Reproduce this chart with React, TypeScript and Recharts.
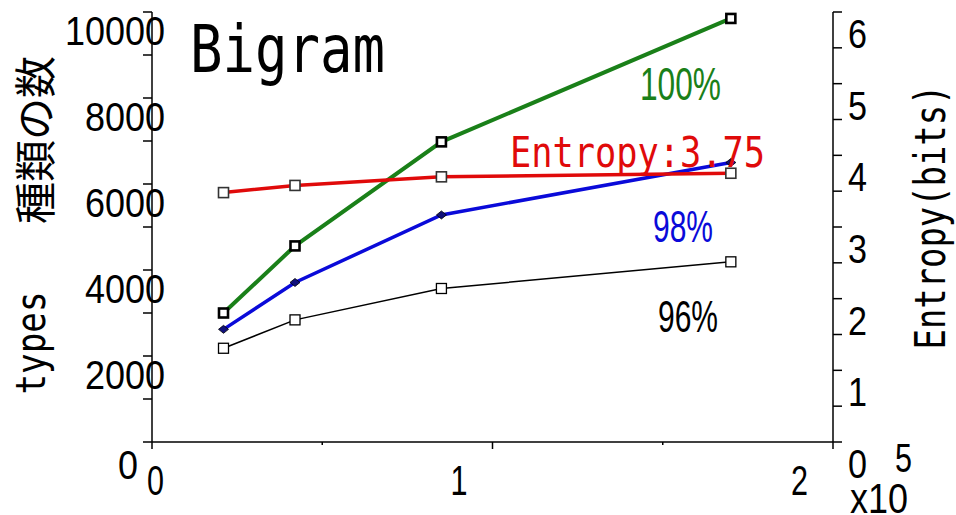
import { LineChart, Line, XAxis, YAxis } from 'recharts';

// sample sizes in units of 10^5
const sampleSizes = [0.21, 0.42, 0.85, 1.7];
// number of bigram types covering 100% / 98% / 96% of tokens
const types100 = [3000, 4560, 6980, 9850];
const types98 = [2620, 3710, 5280, 6500];
const types96 = [2180, 2840, 3570, 4190];
// entropy in bits
const entropyBits = [3.48, 3.58, 3.7, 3.75];

const typeTicks = [0, 1000, 2000, 3000, 4000, 5000, 6000, 7000, 8000, 9000, 10000];
const entropyTicks = [0, 0.5, 1, 1.5, 2, 2.5, 3, 3.5, 4, 4.5, 5, 5.5, 6];
const sizeTicks = [0, 0.5, 1, 1.5, 2];

const data = sampleSizes.map((x, i) => ({
  x,
  t100: types100[i],
  t98: types98[i],
  t96: types96[i],
  entropy: entropyBits[i],
}));

const GREEN = '#1a8019';
const RED = '#e00a0a';
const BLUE = '#0a0ad9';
const NUM_FONT = "'Liberation Sans', Arial, sans-serif";
const MONO_FONT = "'DejaVu Sans Mono', 'Liberation Mono', monospace";

const LeftTick = ({ x, y, payload }: any) => {
  const v = payload.value;
  const label = String(v);
  // the zero label sits left of the corner, clear of the x-axis zero
  const tx = v === 0 ? x - 14 : x + 13;
  const ty = v === 0 ? y + 37 : y + 33;
  return (
    <g>
      <line x1={x} x2={x - 9} y1={y} y2={y} stroke="#000" strokeWidth={1.5} />
      {v % 2000 === 0 && (
        <text
          x={tx}
          y={ty}
          textAnchor="end"
          fontFamily={NUM_FONT}
          fontSize={40}
          fill="#000"
          textLength={label.length * 20}
          lengthAdjust="spacingAndGlyphs"
        >
          {label}
        </text>
      )}
    </g>
  );
};

const RightTick = ({ x, y, payload }: any) => {
  const v = payload.value;
  return (
    <g>
      <line x1={x} x2={x + 9} y1={y} y2={y} stroke="#000" strokeWidth={1.5} />
      {Number.isInteger(v) && (
        <text
          x={x + 15}
          y={y + 36}
          fontFamily={NUM_FONT}
          fontSize={41}
          fill="#000"
          textLength={19}
          lengthAdjust="spacingAndGlyphs"
        >
          {v}
        </text>
      )}
    </g>
  );
};

const BottomTick = ({ x, y, payload }: any) => {
  const v = payload.value;
  const major = Number.isInteger(v);
  return (
    <g>
      <line x1={x} x2={x} y1={y} y2={y + (major ? 7 : 3)} stroke="#000" strokeWidth={1.5} />
      {major && (
        <text
          x={x + (v === 0 ? -5 : -42)}
          y={y + 53}
          fontFamily={NUM_FONT}
          fontSize={42}
          fill="#000"
          textLength={17}
          lengthAdjust="spacingAndGlyphs"
        >
          {v}
        </text>
      )}
    </g>
  );
};

const SquareDot = ({ cx, cy, stroke, width, size }: any) => (
  <rect
    x={cx - size / 2}
    y={cy - size / 2}
    width={size}
    height={size}
    fill="#fff"
    stroke={stroke}
    strokeWidth={width}
  />
);

const DiamondDot = ({ cx, cy }: any) => (
  <polygon
    points={`${cx - 5},${cy} ${cx},${cy - 4} ${cx + 5},${cy} ${cx},${cy + 4}`}
    fill="#10107a"
    stroke="#000"
    strokeWidth={0.8}
  />
);

export default function App() {
  const last = entropyBits[entropyBits.length - 1];
  return (
    <div style={{ position: 'absolute', left: 0, top: 0, width: 956, height: 515, background: '#fff' }}>
      <LineChart width={956} height={515} data={data} margin={{ top: 12, right: 43, bottom: 33, left: 52 }}>
        <XAxis
          dataKey="x"
          type="number"
          domain={[0, 2]}
          ticks={sizeTicks}
          height={40}
          tickSize={0}
          tickMargin={0}
          tickLine={false}
          tick={<BottomTick />}
          axisLine={{ stroke: '#000', strokeWidth: 1.5 }}
          interval={0}
        />
        <YAxis
          yAxisId="types"
          orientation="left"
          domain={[0, 10000]}
          ticks={typeTicks}
          width={100}
          tickSize={0}
          tickMargin={0}
          tickLine={false}
          tick={<LeftTick />}
          axisLine={{ stroke: '#000', strokeWidth: 1.5 }}
          interval={0}
        />
        <YAxis
          yAxisId="bits"
          orientation="right"
          domain={[0, 6]}
          ticks={entropyTicks}
          width={80}
          tickSize={0}
          tickMargin={0}
          tickLine={false}
          tick={<RightTick />}
          axisLine={{ stroke: '#000', strokeWidth: 1.5 }}
          interval={0}
        />
        <Line
          yAxisId="types"
          dataKey="t96"
          stroke="#000"
          strokeWidth={1.5}
          dot={<SquareDot stroke="#000" width={1.3} size={10} />}
          isAnimationActive={false}
        />
        <Line
          yAxisId="types"
          dataKey="t100"
          stroke={GREEN}
          strokeWidth={4}
          dot={<SquareDot stroke="#000" width={2.6} size={9} />}
          isAnimationActive={false}
        />
        <Line
          yAxisId="types"
          dataKey="t98"
          stroke={BLUE}
          strokeWidth={3.5}
          dot={<DiamondDot />}
          isAnimationActive={false}
        />
        <Line
          yAxisId="bits"
          dataKey="entropy"
          stroke={RED}
          strokeWidth={3.5}
          dot={<SquareDot stroke="#333" width={1.6} size={10} />}
          isAnimationActive={false}
        />
      </LineChart>
      <svg width={956} height={515} style={{ position: 'absolute', left: 0, top: 0, pointerEvents: 'none' }}>
        <text x={190} y={72} fontFamily={MONO_FONT} fontSize={66} fill="#000" textLength={195} lengthAdjust="spacingAndGlyphs">
          Bigram
        </text>
        <text x={640} y={100} fontFamily={NUM_FONT} fontSize={46} fill={GREEN} textLength={81} lengthAdjust="spacingAndGlyphs">
          100%
        </text>
        <text x={510} y={167} fontFamily={MONO_FONT} fontSize={42} fill={RED} textLength={255} lengthAdjust="spacingAndGlyphs">
          {`Entropy:${last.toFixed(2)}`}
        </text>
        <text x={653} y={242} fontFamily={NUM_FONT} fontSize={44} fill={BLUE} textLength={60} lengthAdjust="spacingAndGlyphs">
          98%
        </text>
        <text x={658} y={332} fontFamily={NUM_FONT} fontSize={44} fill="#000" textLength={60} lengthAdjust="spacingAndGlyphs">
          96%
        </text>
        <text
          transform="translate(32 140) rotate(-90)"
          textAnchor="middle"
          dominantBaseline="central"
          fontFamily="'Noto Sans CJK JP', sans-serif"
          fontSize={42}
          fill="#000"
        >
          種類の数
        </text>
        <text
          transform="translate(45 343) rotate(-90)"
          textAnchor="middle"
          fontFamily={MONO_FONT}
          fontSize={40}
          fill="#000"
          textLength={103}
          lengthAdjust="spacingAndGlyphs"
        >
          types
        </text>
        <text
          transform="translate(945 217) rotate(-90)"
          textAnchor="middle"
          fontFamily={MONO_FONT}
          fontSize={42}
          fill="#000"
          textLength={265}
          lengthAdjust="spacingAndGlyphs"
        >
          Entropy(bits)
        </text>
        <text x={895} y={472} fontFamily={NUM_FONT} fontSize={40} fill="#000" textLength={17} lengthAdjust="spacingAndGlyphs">
          5
        </text>
        <text x={850} y={513} fontFamily={NUM_FONT} fontSize={42} fill="#000" textLength={58} lengthAdjust="spacingAndGlyphs">
          x10
        </text>
      </svg>
    </div>
  );
}
